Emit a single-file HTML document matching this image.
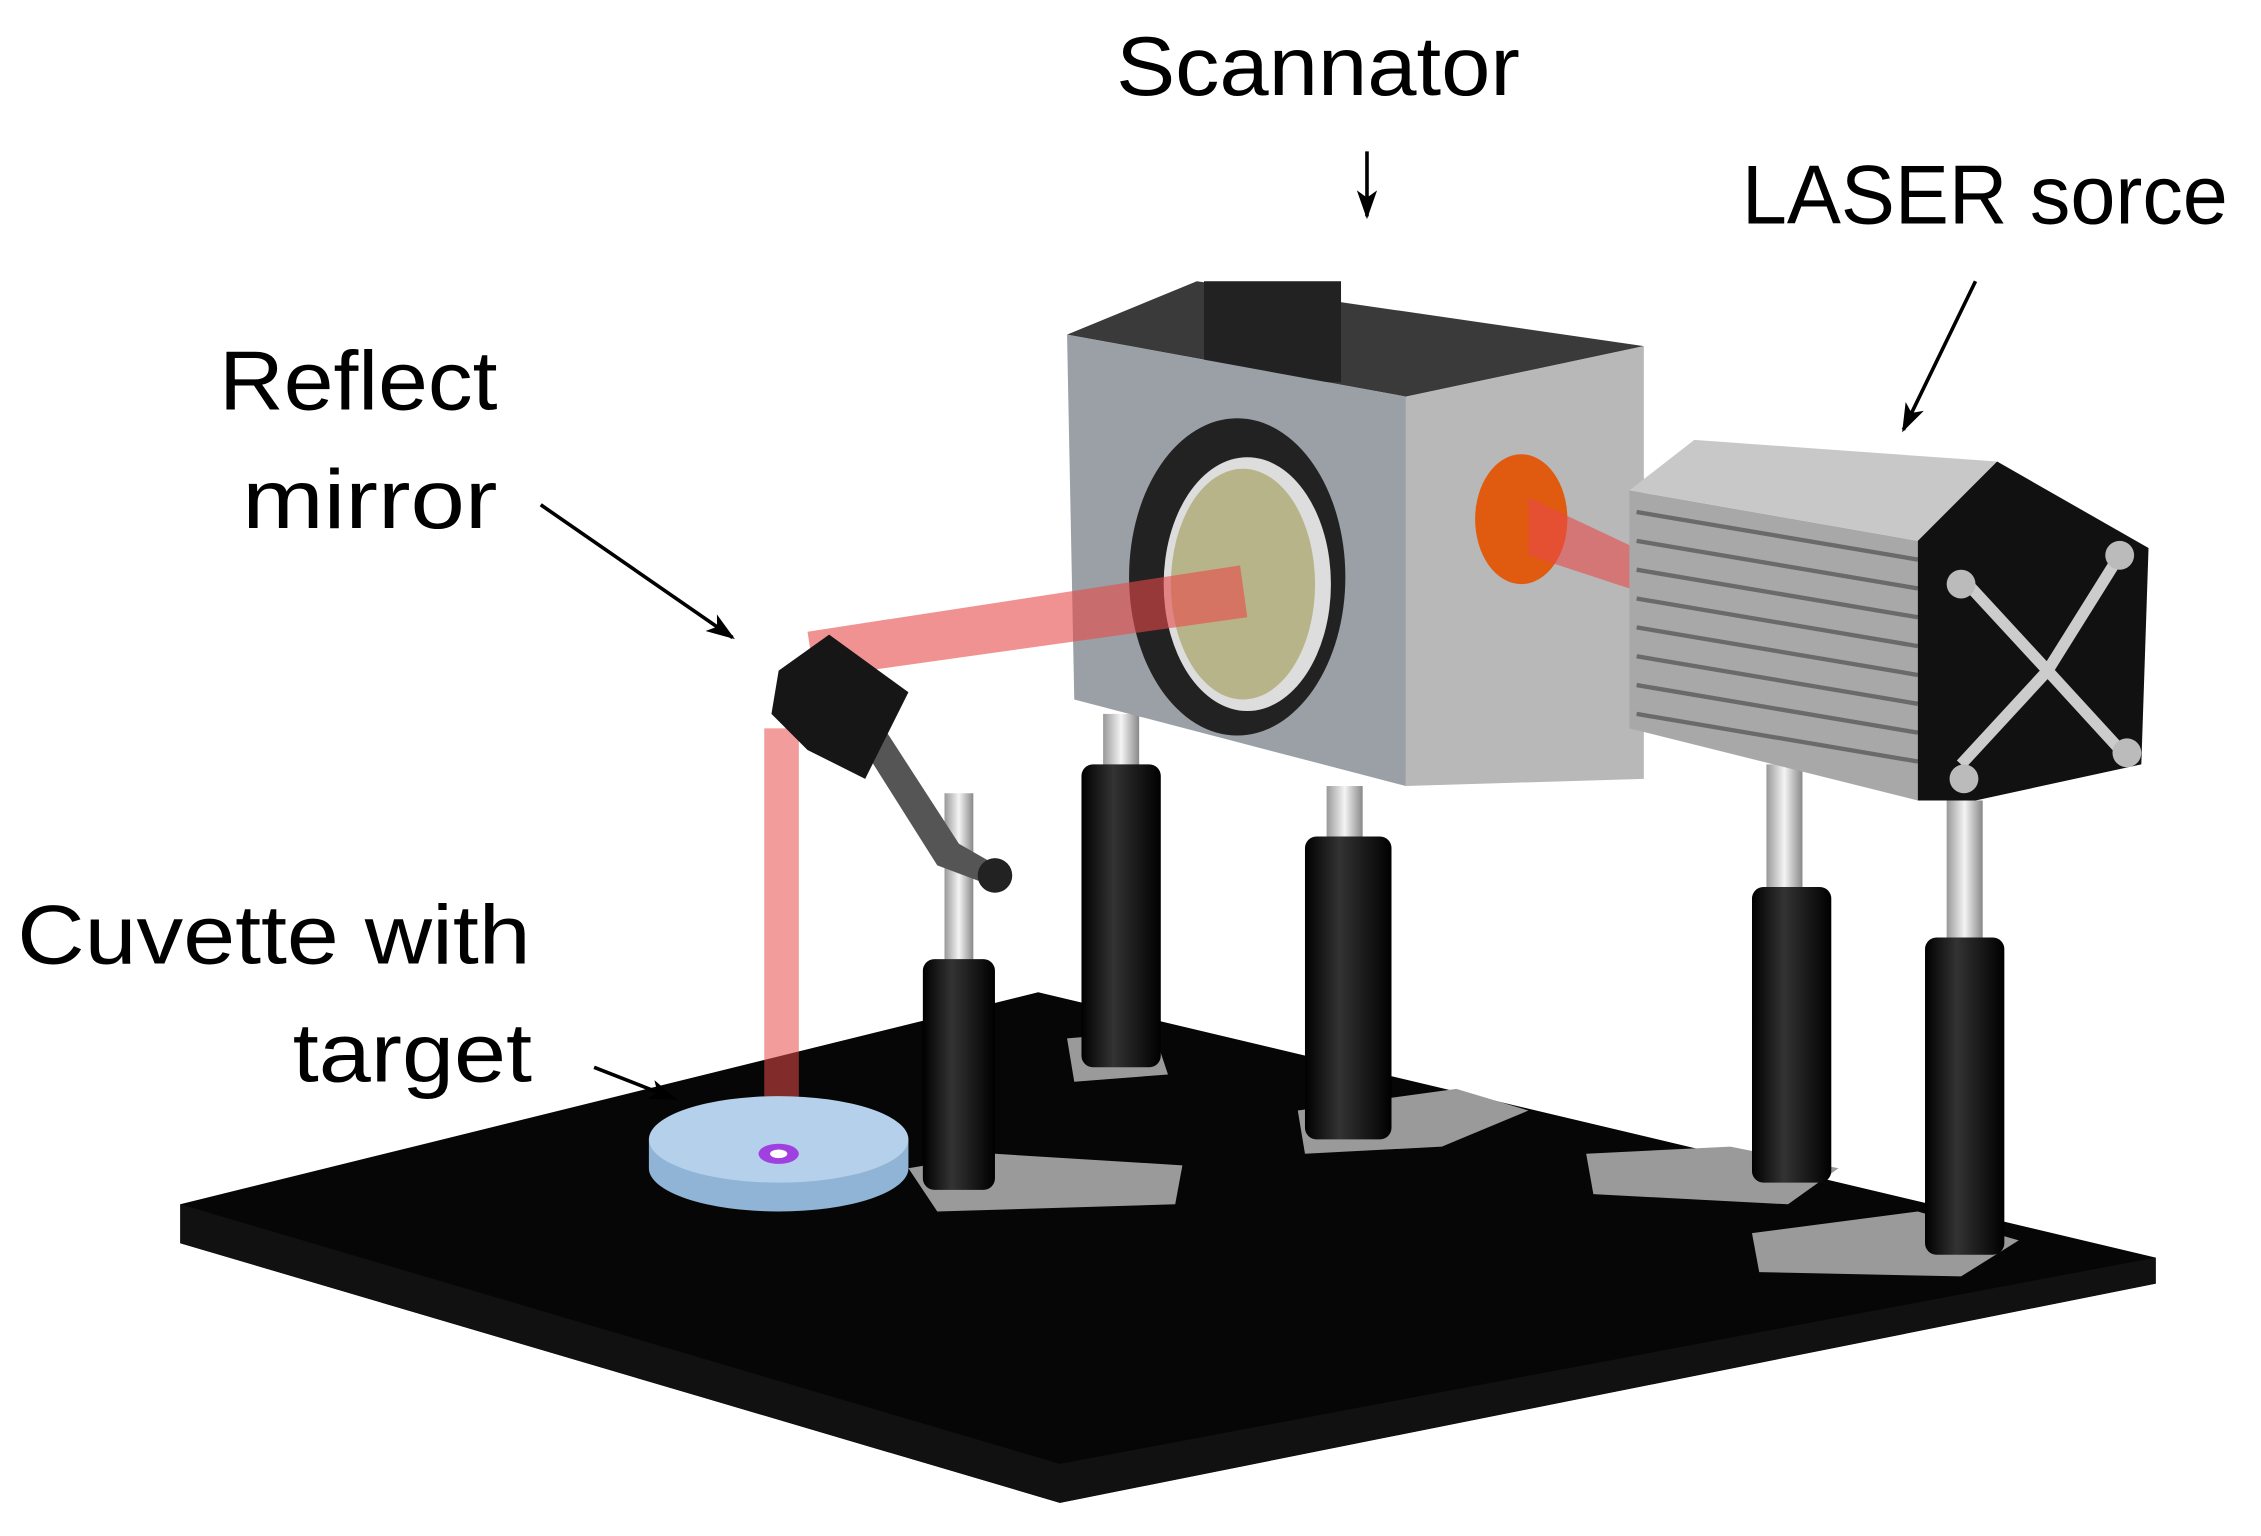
<!DOCTYPE html>
<html><head><meta charset="utf-8"><style>html,body{margin:0;padding:0;background:#fff}svg{display:block}</style></head>
<body>
<svg width="2261" height="1536" viewBox="0 0 1568 1065" preserveAspectRatio="none" xmlns="http://www.w3.org/2000/svg">
<defs>
<marker id="ah" markerWidth="20" markerHeight="14" refX="18" refY="7" orient="auto" markerUnits="userSpaceOnUse"><path d="M0,0 L20,7 L0,14 L5,7 Z" fill="#000"/></marker>
<linearGradient id="post" x1="0" x2="1"><stop offset="0" stop-color="#000"/><stop offset="0.4" stop-color="#333"/><stop offset="1" stop-color="#000"/></linearGradient>
<linearGradient id="rod" x1="0" x2="1"><stop offset="0" stop-color="#999"/><stop offset="0.5" stop-color="#f4f4f4"/><stop offset="1" stop-color="#888"/></linearGradient>
</defs>
<rect width="1568" height="1065" fill="#fff"/>
<polygon points="125,835 720,688 1495,872 1495,890 735,1042 125,862" fill="#060606"/>
<polygon points="125,835 735,1015 1495,872 1495,890 735,1042 125,862" fill="#111"/>
<path d="M630,810 L690,800 L820,808 L815,835 L650,840 Z" fill="#9a9a9a"/>
<path d="M740,720 L800,715 L810,745 L745,750 Z" fill="#9a9a9a"/>
<path d="M900,770 L1010,755 L1060,770 L1000,795 L905,800 Z" fill="#9a9a9a"/>
<path d="M1100,800 L1200,795 L1275,810 L1240,835 L1105,828 Z" fill="#9a9a9a"/>
<path d="M1215,855 L1330,840 L1400,860 L1360,885 L1220,882 Z" fill="#9a9a9a"/>
<rect x="655" y="550" width="20" height="130" fill="url(#rod)"/>
<rect x="640" y="665" width="50" height="160" rx="8" fill="url(#post)"/>
<rect x="765" y="495" width="25" height="40" fill="url(#rod)"/>
<rect x="750" y="530" width="55" height="210" rx="8" fill="url(#post)"/>
<rect x="920" y="545" width="25" height="40" fill="url(#rod)"/>
<rect x="905" y="580" width="60" height="210" rx="8" fill="url(#post)"/>
<rect x="1225" y="530" width="25" height="100" fill="url(#rod)"/>
<rect x="1215" y="615" width="55" height="205" rx="8" fill="url(#post)"/>
<rect x="1350" y="555" width="25" height="110" fill="url(#rod)"/>
<rect x="1335" y="650" width="55" height="220" rx="8" fill="url(#post)"/>
<path d="M590,505 L650,600 L690,615 L700,605 L665,585 L610,500 Z" fill="#555"/>
<circle cx="690" cy="607" r="12" fill="#222"/>
<polygon points="740,232 830,195 1140,240 975,275" fill="#3a3a3a"/>
<rect x="835" y="195" width="95" height="70" fill="#222"/>
<polygon points="740,232 975,275 975,545 745,485" fill="#9aa0a6"/>
<polygon points="975,275 1140,240 1140,540 975,545" fill="#b8b8b8"/>
<ellipse cx="858" cy="400" rx="75" ry="110" fill="#222"/>
<ellipse cx="865" cy="405" rx="58" ry="88" fill="#ddd"/>
<ellipse cx="862" cy="405" rx="50" ry="80" fill="#b8b48a"/>
<ellipse cx="1055" cy="360" rx="32" ry="45" fill="#e05a10"/>
<polygon points="1130,340 1330,375 1330,555 1130,505" fill="#a8a8a8"/>
<polygon points="1130,340 1175,305 1385,320 1330,375" fill="#c8c8c8"/>
<g stroke="#6a6a6a" stroke-width="3">
<line x1="1135" y1="355" x2="1330" y2="388"/><line x1="1135" y1="375" x2="1330" y2="408"/><line x1="1135" y1="395" x2="1330" y2="428"/><line x1="1135" y1="415" x2="1330" y2="448"/><line x1="1135" y1="435" x2="1330" y2="468"/><line x1="1135" y1="455" x2="1330" y2="488"/><line x1="1135" y1="475" x2="1330" y2="508"/><line x1="1135" y1="495" x2="1330" y2="528"/>
</g>
<polygon points="1330,375 1385,320 1490,380 1485,530 1370,555 1330,555" fill="#111"/>
<path d="M1360,400 L1420,465 L1360,530 M1470,385 L1420,465 L1475,525" stroke="#ccc" stroke-width="8" fill="none"/>
<circle cx="1360" cy="405" r="10" fill="#bbb"/><circle cx="1470" cy="385" r="10" fill="#bbb"/><circle cx="1362" cy="540" r="10" fill="#bbb"/><circle cx="1475" cy="522" r="10" fill="#bbb"/>
<polygon points="560,438 860,392 865,428 565,470" fill="#e84a4a" opacity="0.6"/>
<polygon points="1060,345 1130,378 1130,408 1060,385" fill="#e84a4a" opacity="0.6"/>
<rect x="530" y="505" width="24" height="300" fill="#e84a4a" opacity="0.55"/>
<polygon points="540,465 575,440 630,480 600,540 560,520 535,495" fill="#161616"/>
<g stroke="#000" stroke-width="2.5" marker-end="url(#ah)">
<line x1="948" y1="105" x2="948" y2="150"/>
<line x1="1370" y1="195" x2="1320" y2="298"/>
<line x1="375" y1="350" x2="508" y2="442"/>
<line x1="412" y1="740" x2="468" y2="762"/>
</g>
<path d="M450,790 L450,810 A90,30 0 0 0 630,810 L630,790 Z" fill="#8fb4d6"/>
<ellipse cx="540" cy="790" rx="90" ry="30" fill="#b4d0ea"/>
<ellipse cx="540" cy="800" rx="14" ry="7" fill="#a040e0"/>
<ellipse cx="540" cy="800" rx="6" ry="3" fill="#fff"/>
<g font-family="Liberation Sans, sans-serif" font-size="58" fill="#000">
<text x="774" y="66" textLength="280" lengthAdjust="spacingAndGlyphs">Scannator</text>
<text x="1208" y="155" textLength="337" lengthAdjust="spacingAndGlyphs">LASER sorce</text>
<text x="152" y="284" textLength="193" lengthAdjust="spacingAndGlyphs">Reflect</text>
<text x="168" y="366" textLength="177" lengthAdjust="spacingAndGlyphs">mirror</text>
<text x="12" y="668" textLength="356" lengthAdjust="spacingAndGlyphs">Cuvette with</text>
<text x="203" y="750" textLength="166" lengthAdjust="spacingAndGlyphs">target</text>
</g>
</svg>
</body></html>
